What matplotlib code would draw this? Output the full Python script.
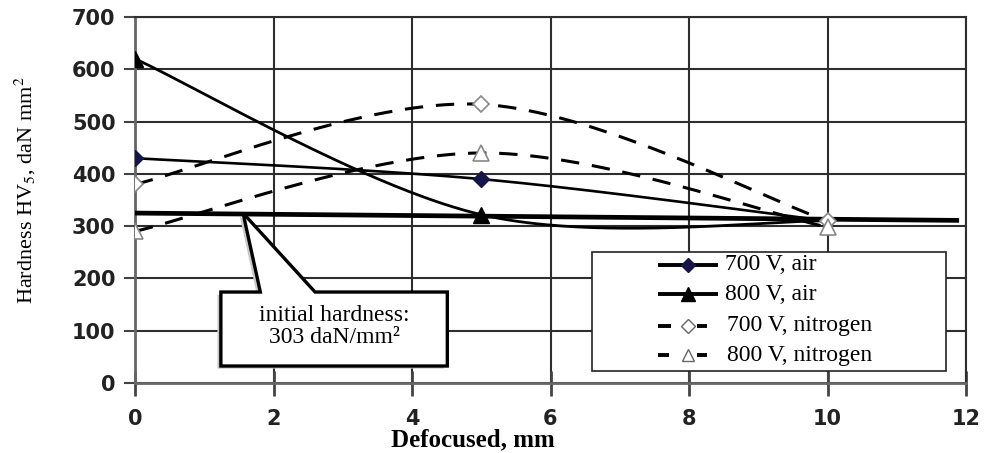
import numpy as np
import matplotlib
matplotlib.use("Agg")
import matplotlib.pyplot as plt
from matplotlib.patches import Polygon, Rectangle
from matplotlib.lines import Line2D

plt.rcParams["mathtext.fontset"] = "stix"

# ---- data -------------------------------------------------------------
defocus = [0, 5, 10]
hv_700_air = [430, 390, 310]
hv_800_air = [620, 322, 310]
hv_700_n2 = [380, 533, 310]
hv_800_n2 = [290, 440, 298]

baseline_x = [0, 11.9]
baseline_y = [325, 311]

series_labels = ["700 V, air", "800 V, air", "700 V, nitrogen", "800 V, nitrogen"]
x_ticks = [0, 2, 4, 6, 8, 10, 12]
y_ticks = [0, 100, 200, 300, 400, 500, 600, 700]
callout_text = "initial hardness:\n303 daN/mm\u00b2"


def smooth_curve(xs, ys, n=80):
    """Piecewise cubic Bezier through the points (spreadsheet-style smoothing)."""
    pts = np.column_stack([xs, ys]).astype(float)
    out = [pts[0]]
    t = np.linspace(0, 1, n)[1:, None]
    for i in range(len(pts) - 1):
        p0 = pts[i - 1] if i > 0 else pts[i]
        p1, p2 = pts[i], pts[i + 1]
        p3 = pts[i + 2] if i + 2 < len(pts) else pts[i + 1]
        c1 = p1 + (p2 - p0) / 6.0
        c2 = p2 - (p3 - p1) / 6.0
        seg = (1 - t) ** 3 * p1 + 3 * (1 - t) ** 2 * t * c1 + 3 * (1 - t) * t ** 2 * c2 + t ** 3 * p2
        out.extend(seg)
    out = np.array(out)
    return out[:, 0], out[:, 1]


W, H = 984, 453
fig = plt.figure(figsize=(W / 100, H / 100), dpi=100)
ax_l, ax_r, ax_t, ax_b = 135, 966, 17, 383
ax = fig.add_axes([ax_l / W, 1 - ax_b / H, (ax_r - ax_l) / W, (ax_b - ax_t) / H])

ax.set_xlim(0, 12)
ax.set_ylim(0, 700)
ax.set_xticks(x_ticks)
ax.set_yticks(y_ticks)

grid_c = "#2e2e2e"
ax.grid(True, color=grid_c, linewidth=1.5)
ax.set_axisbelow(True)
for side in ["top", "right"]:
    ax.spines[side].set_color(grid_c)
    ax.spines[side].set_linewidth(1.5)
for side in ["left", "bottom"]:
    ax.spines[side].set_color("#666666")
    ax.spines[side].set_linewidth(2)

ax.tick_params(axis="y", direction="out", length=8, width=1.5, color="#444444",
               labelsize=15, labelcolor="#222222", pad=6)
ax.tick_params(axis="x", direction="inout", length=18, width=2, color="#444444",
               labelsize=15, labelcolor="#222222", pad=10)
for lab in ax.get_xticklabels() + ax.get_yticklabels():
    lab.set_family("DejaVu Sans")
    lab.set_fontweight("bold")

# ---- curves -----------------------------------------------------------
ax.plot(baseline_x, baseline_y, color="black", linewidth=3.4, solid_capstyle="butt", zorder=3)

dash = (0, (6, 4.2))
sx, sy = smooth_curve(defocus, hv_700_n2)
ax.plot(sx, sy, color="black", linewidth=2.2, linestyle=dash, zorder=4)
sx, sy = smooth_curve(defocus, hv_800_n2)
ax.plot(sx, sy, color="black", linewidth=2.2, linestyle=dash, zorder=4)
sx, sy = smooth_curve(defocus, hv_700_air)
ax.plot(sx, sy, color="black", linewidth=1.9, zorder=4)
sx, sy = smooth_curve(defocus, hv_800_air)
ax.plot(sx, sy, color="black", linewidth=2.0, zorder=4)

ax.plot(defocus, hv_700_n2, linestyle="none", marker="D", markersize=8,
        markerfacecolor="white", markeredgecolor="#888888", markeredgewidth=1.2, zorder=5)
ax.plot(defocus, hv_800_n2, linestyle="none", marker="^", markersize=11,
        markerfacecolor="white", markeredgecolor="#888888", markeredgewidth=1.2, zorder=5)
ax.plot(defocus[:2], hv_700_air[:2], linestyle="none", marker="D", markersize=8,
        markerfacecolor="#15154a", markeredgecolor="#15154a", zorder=6)
ax.plot(defocus[:2], hv_800_air[:2], linestyle="none", marker="^", markersize=11,
        markerfacecolor="black", markeredgecolor="black", zorder=6)

# ---- callout ----------------------------------------------------------
box_x0, box_x1 = 1.24, 4.51
box_y0, box_y1 = 32.5, 174
tip = (1.56, 325)
wedge_l, wedge_r = 1.81, 2.60
callout = [(box_x0, box_y1), (wedge_l, box_y1), tip, (wedge_r, box_y1),
           (box_x1, box_y1), (box_x1, box_y0), (box_x0, box_y0)]
shadow = [(x - 0.05, y - 5) for x, y in callout]
ax.add_patch(Polygon(shadow, closed=True, facecolor="#c8c8c8", edgecolor="none", zorder=6))
ax.add_patch(Polygon(callout, closed=True, facecolor="white", edgecolor="black",
                     linewidth=2.4, joinstyle="miter", zorder=7))
ax.text((box_x0 + box_x1) / 2, 108, callout_text, ha="center", va="center",
        fontsize=17, family="Liberation Serif", linespacing=1.12, zorder=8)

# ---- legend -----------------------------------------------------------
def ax_frac(px, py):
    return (px - ax_l) / (ax_r - ax_l), (ax_b - py) / (ax_b - ax_t)

lx0, ly0 = ax_frac(592, 371)
lx1, ly1 = ax_frac(946, 252)
ax.add_patch(Rectangle((lx0, ly0), lx1 - lx0, ly1 - ly0, transform=ax.transAxes,
                       facecolor="white", edgecolor="#222222", linewidth=1.2, zorder=9))

rows_py = [265, 294, 326, 355]
styles = [
    dict(segs=[(658, 718)], marker="D", ms=7, mfc="#15154a", mec="#15154a"),
    dict(segs=[(658, 718)], marker="^", ms=10, mfc="black", mec="black"),
    dict(segs=[(658, 671), (697, 707)], marker="D", ms=7, mfc="white", mec="#666666"),
    dict(segs=[(658, 669), (697, 707)], marker="^", ms=9, mfc="white", mec="#666666"),
]
text_px = [725, 725, 727, 727]
for label, py, st, tx in zip(series_labels, rows_py, styles, text_px):
    _, hy = ax_frac(0, py)
    for a, b in st["segs"]:
        xa, _ = ax_frac(a, py)
        xb, _ = ax_frac(b, py)
        ax.add_line(Line2D([xa, xb], [hy, hy], transform=ax.transAxes, color="black",
                           linewidth=2.8, solid_capstyle="butt", zorder=10))
    hxm, _ = ax_frac(688, py)
    ax.add_line(Line2D([hxm], [hy], transform=ax.transAxes, linestyle="none",
                       marker=st["marker"], markersize=st["ms"], markerfacecolor=st["mfc"],
                       markeredgecolor=st["mec"], zorder=11))
    txf, _ = ax_frac(tx, py)
    ax.text(txf, hy, label, transform=ax.transAxes, ha="left", va="center",
            fontsize=17, family="Liberation Serif", zorder=11)

# ---- axis titles ------------------------------------------------------
fig.text(473 / W, 1 - 440 / H, "Defocused, mm", ha="center", va="center",
         fontsize=18, family="Liberation Serif", fontweight="bold")
fig.text(25 / W, 1 - 190 / H, "Hardness HV$_5$, daN mm$^2$", ha="center", va="center",
         rotation=90, fontsize=16, family="Liberation Serif")

fig.savefig("out.png", dpi=100)
